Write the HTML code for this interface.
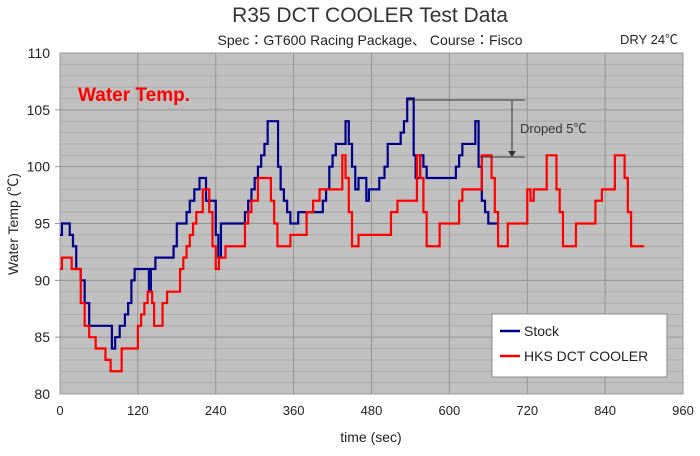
<!DOCTYPE html>
<html><head><meta charset="utf-8"><style>
body{margin:0;background:#fff;font-family:"Liberation Sans","Noto Sans CJK JP",sans-serif}
svg text{font-family:"Liberation Sans","Noto Sans CJK JP",sans-serif}
</style></head><body>
<svg id="c" width="700" height="451">
<text x="370" y="22" font-size="21" text-anchor="middle" fill="#333">R35 DCT COOLER  Test Data</text>
<text x="370" y="45" font-size="14" text-anchor="middle" fill="#222">Spec：GT600 Racing Package、 Course：Fisco</text>
<text x="620" y="44" font-size="13" fill="#222">DRY  24℃</text>
<rect x="60" y="53" width="623" height="341" fill="#c0c0c0" stroke="#999"/>
<g id="grid"></g>
<g id="axes"></g>
<text x="78" y="101" font-size="19" font-weight="bold" fill="#ff0000" textLength="112" lengthAdjust="spacingAndGlyphs">Water Temp.</text>
<g id="series"></g>
<g>
<line x1="408" y1="100" x2="525" y2="100" stroke="#333"/>
<line x1="480" y1="157" x2="525" y2="157" stroke="#333"/>
<line x1="512" y1="100" x2="512" y2="152" stroke="#333"/>
<polygon points="508,151 516,151 512,157" fill="#333"/>
<text x="520" y="133" font-size="13" fill="#333">Droped 5℃</text>
</g>
<text x="18" y="224" font-size="14" fill="#222" text-anchor="middle" transform="rotate(-90 18 224)">Water Temp (℃)</text>
<text x="371" y="442" font-size="14" fill="#222" text-anchor="middle">time (sec)</text>
<g>
<rect x="492" y="314" width="175" height="63" fill="#fff" stroke="#888"/>
<g><line x1="500" y1="331" x2="520" y2="331" stroke="#00008b" stroke-width="2.5"/><text x="524" y="336" font-size="14" fill="#222">Stock</text></g>
<g><line x1="500" y1="356" x2="520" y2="356" stroke="#ff0000" stroke-width="2.5"/><text x="524" y="361" font-size="14" fill="#222">HKS DCT COOLER</text></g>
</g>
</svg>
<script>
const xTicks=[0,120,240,360,480,600,720,840,960];
const yTicks=[80,85,90,95,100,105,110];
const stockT=[0,3,15,20,25,32,38,45,80,85,92,100,105,110,115,120,137,140,147,175,180,195,200,207,215,220,225,240,244,248,255,285,290,295,300,305,310,315,320,332,336,340,345,350,355,367,375,405,410,415,420,425,440,445,450,455,460,472,476,492,500,505,525,530,535,545,548,550,555,560,565,575,610,615,620,640,645,650,655,660,665,675];
const stockV=[94,95,94,93,91,90,88,86,84,85,86,87,88,90,91,91,89,91,92,93,95,96,97,98,99,99,97,94,92,95,95,96,97,98,99,100,101,102,104,104,100,98,97,96,95,96,96,97,98,100,101,102,104,102,100,98,99,97,98,99,100,102,103,104,106,101,99,99,101,100,99,99,100,101,102,104,100,97,96,95,95,95];
const hksT=[0,3,18,32,38,45,55,70,78,85,95,100,120,125,130,135,142,145,152,158,165,185,190,195,200,205,210,215,220,230,235,240,245,250,255,285,290,295,300,305,325,330,335,340,345,355,360,380,385,390,400,430,435,440,445,450,460,500,505,510,520,545,550,555,560,565,570,585,610,615,620,630,650,655,665,670,675,680,690,715,720,725,730,745,750,760,765,770,775,780,795,820,825,835,850,855,865,870,875,880,900];
const hksV=[91,92,91,88,86,85,84,83,82,82,84,84,86,87,88,89,88,86,86,88,89,91,92,93,94,95,96,96,98,96,93,91,92,92,93,95,96,97,97,99,97,95,93,93,93,94,94,96,96,97,98,98,101,99,96,93,94,94,94,96,97,97,101,99,96,93,93,95,95,97,98,98,101,101,99,96,93,93,95,95,98,97,98,98,101,101,98,96,93,93,95,95,97,98,98,101,101,99,96,93,93];
const X=t=>60+t*623/960, Y=v=>394-(v-80)*341/30;
const ns="http://www.w3.org/2000/svg";
const grid=document.getElementById('grid'),axes=document.getElementById('axes'),series=document.getElementById('series');
for(let v=81;v<110;v++){const l=document.createElementNS(ns,'line');


l.setAttribute('x1',v%5?60:55);l.setAttribute('x2',683);l.setAttribute('y1',Y(v));l.setAttribute('y2',Y(v));
l.setAttribute('stroke',v%5?'#acacac':'#949494');l.setAttribute('stroke-width',1);grid.appendChild(l);}
xTicks.forEach(t=>{if(t>0&&t<960){const l=document.createElementNS(ns,'line');


l.setAttribute('x1',X(t));l.setAttribute('x2',X(t));l.setAttribute('y1',53);l.setAttribute('y2',394);l.setAttribute('stroke','#949494');grid.appendChild(l);}
const tx=document.createElementNS(ns,'text');


tx.setAttribute('x',X(t));tx.setAttribute('y',415);tx.setAttribute('font-size',13);tx.setAttribute('text-anchor','middle');tx.setAttribute('fill','#222');tx.textContent=t;axes.appendChild(tx);});
yTicks.forEach(v=>{const tx=document.createElementNS(ns,'text');


tx.setAttribute('x',50);tx.setAttribute('y',Y(v)+5);tx.setAttribute('font-size',14);tx.setAttribute('text-anchor','end');tx.setAttribute('fill','#222');tx.textContent=v;axes.appendChild(tx);});
function step(T,V,col,name){let d='M'+X(T[0])+','+Y(V[0]);
for(let i=1;i<T.length;i++){d+=' H'+X(T[i])+' V'+Y(V[i]);}
const p=document.createElementNS(ns,'path');


p.setAttribute('d',d);p.setAttribute('fill','none');p.setAttribute('stroke',col);p.setAttribute('stroke-width',2.2);series.appendChild(p);}
step(stockT,stockV,'#00008b','stock-line');
step(hksT,hksV,'#ff0000','hks-line');
</script>
</body></html>
